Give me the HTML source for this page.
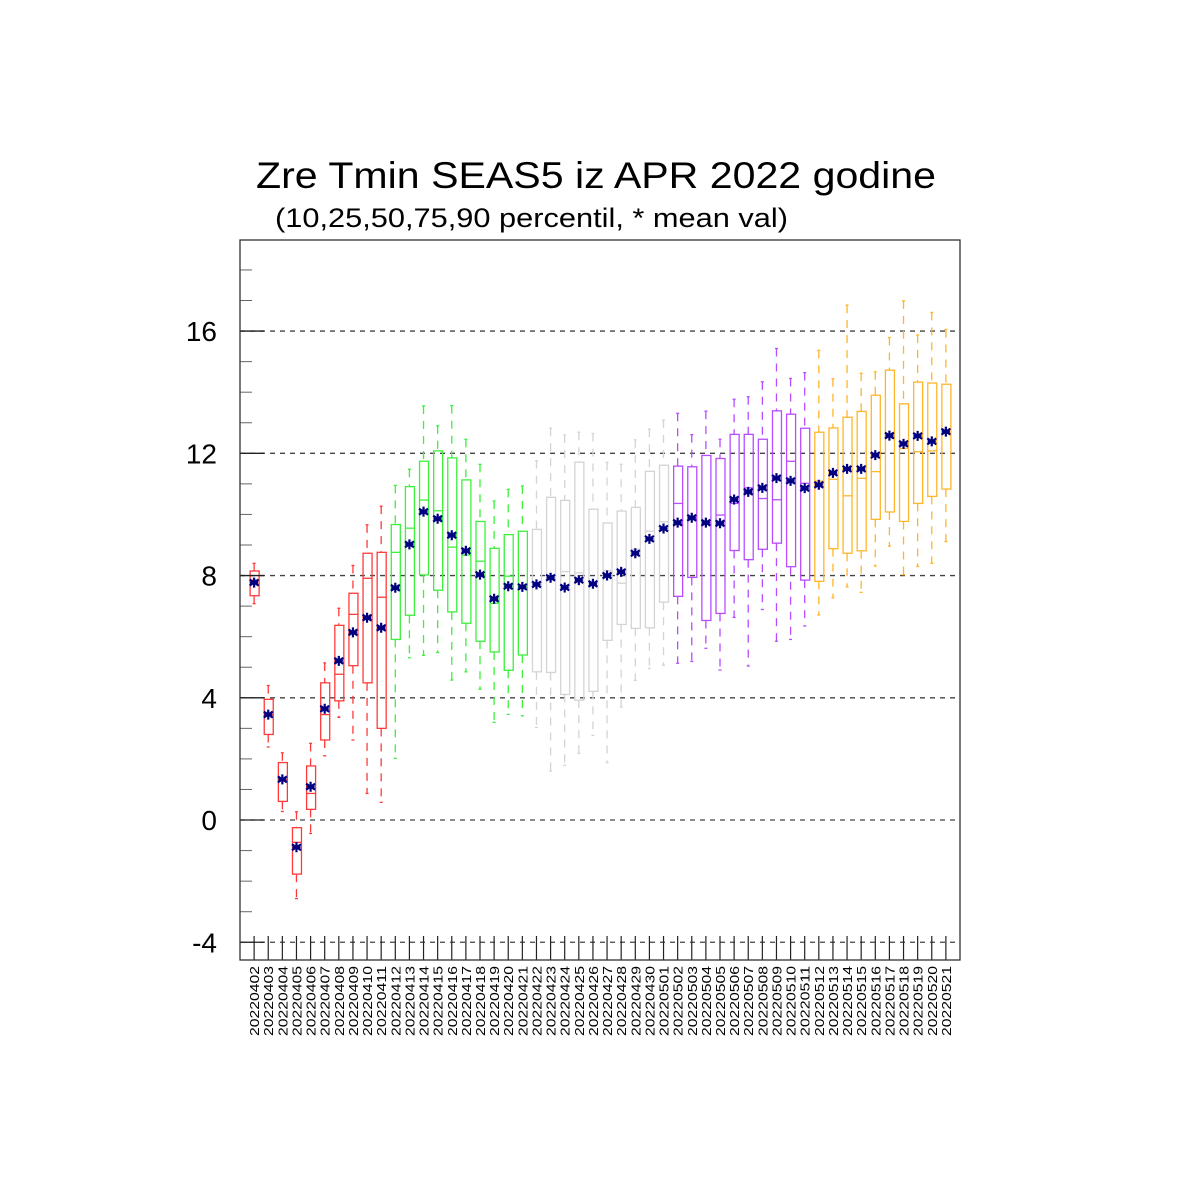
<!DOCTYPE html>
<html><head><meta charset="utf-8"><style>
html,body{margin:0;padding:0;background:#fff;}
svg{display:block;font-family:"Liberation Sans",sans-serif;}
</style></head><body>
<svg id="chart" width="1200" height="1200" viewBox="0 0 1200 1200" xmlns="http://www.w3.org/2000/svg">
<rect width="1200" height="1200" fill="#fff"/>
<text x="256" y="188" font-size="37" textLength="680" lengthAdjust="spacingAndGlyphs">Zre Tmin SEAS5 iz APR 2022 godine</text>
<text x="275" y="227" font-size="27" textLength="513" lengthAdjust="spacingAndGlyphs">(10,25,50,75,90 percentil, * mean val)</text>
<g id="grid"></g><g id="boxes"></g><g id="axes"></g>
</svg>
<script>
const dates=["20220402","20220403","20220404","20220405","20220406","20220407","20220408","20220409","20220410","20220411","20220412","20220413","20220414","20220415","20220416","20220417","20220418","20220419","20220420","20220421","20220422","20220423","20220424","20220425","20220426","20220427","20220428","20220429","20220430","20220501","20220502","20220503","20220504","20220505","20220506","20220507","20220508","20220509","20220510","20220511","20220512","20220513","20220514","20220515","20220516","20220517","20220518","20220519","20220520","20220521"];
const p10=[7.08,2.39,0.28,-2.57,-0.44,2.10,3.36,2.62,0.87,0.58,2.02,5.31,5.39,5.48,4.58,4.85,4.28,3.20,3.46,3.41,3.03,1.60,1.79,2.18,2.77,1.88,3.70,4.57,4.96,5.06,5.13,5.19,5.62,4.91,6.63,5.04,6.89,5.85,5.91,6.35,6.71,7.27,7.63,7.45,8.31,8.96,8.03,8.30,8.40,9.11];
const p25=[7.34,2.80,0.61,-1.77,0.35,2.62,3.90,5.05,4.49,3.00,5.91,6.70,8.02,7.52,6.81,6.44,5.85,5.50,4.90,5.40,4.85,4.83,4.11,3.92,4.21,5.88,6.40,6.27,6.29,7.13,7.32,7.94,6.53,6.76,8.82,8.52,8.86,9.06,8.29,7.85,7.81,8.88,8.73,8.81,9.84,10.08,9.77,10.36,10.59,10.83];
const p50=[7.85,3.45,1.30,-0.73,0.87,3.45,4.77,6.73,7.91,7.29,8.76,9.55,10.47,10.12,8.93,8.67,8.47,7.09,7.98,7.62,7.71,7.93,8.13,8.09,7.78,8.16,7.75,8.86,9.45,9.76,10.36,9.89,9.73,9.98,10.36,10.87,10.52,10.48,11.74,11.02,11.09,11.15,10.61,11.18,11.40,12.58,12.16,12.05,12.08,12.65];
const p75=[8.15,3.95,1.88,-0.25,1.77,4.49,6.37,7.42,8.73,8.76,9.67,10.91,11.74,12.08,11.85,11.13,9.77,8.89,9.34,9.45,9.51,10.56,10.46,11.71,10.17,9.72,10.11,10.23,11.41,11.61,11.58,11.56,11.93,11.83,12.62,12.62,12.46,13.39,13.28,12.82,12.69,12.83,13.18,13.37,13.90,14.72,13.62,14.33,14.30,14.26];
const p90=[8.40,4.40,2.20,0.27,2.51,5.14,6.93,8.33,9.66,10.27,10.95,11.48,13.55,12.90,13.56,12.46,11.64,10.44,10.82,10.93,11.76,12.82,12.60,12.69,12.65,11.70,11.64,12.44,12.79,13.09,13.31,12.61,13.38,12.46,13.77,13.85,14.34,15.43,14.45,14.64,15.37,14.44,16.85,14.62,14.67,15.79,16.99,15.87,16.61,16.05];
const means=[7.77,3.45,1.33,-0.89,1.09,3.64,5.21,6.14,6.62,6.29,7.60,9.02,10.09,9.86,9.32,8.81,8.03,7.24,7.65,7.63,7.71,7.93,7.61,7.85,7.73,8.00,8.12,8.73,9.20,9.54,9.73,9.89,9.73,9.71,10.49,10.74,10.87,11.19,11.10,10.86,10.97,11.36,11.49,11.49,11.94,12.58,12.31,12.57,12.39,12.71];
const yTicks=[-4,0,4,8,12,16];
const palette=["#ff3a3a","#3cf03c","#d4d4d4","#b84cff","#ffb52a"];
const NS="http://www.w3.org/2000/svg";
const L=240,R=960,T=240,B=960,yMin=-4.58,yMax=18.98;
const xs=i=>L+(i+1)*(R-L)/(dates.length+1);
const ys=v=>B-(v-yMin)/(yMax-yMin)*(B-T);
function mk(tag,attrs,parent){const e=document.createElementNS(NS,tag);for(const k in attrs)e.setAttribute(k,attrs[k]);parent.appendChild(e);return e;}
const grid=document.getElementById('grid'),boxes=document.getElementById('boxes'),axes=document.getElementById('axes');
for(let v=-4;v<=18;v++){
  const y=ys(v);
  const t=mk('line',{x1:L,x2:L+12,y1:y,y2:y,stroke:'#666','stroke-width':1},axes);
  
  
}
yTicks.forEach(v=>{
  const y=ys(v);
  const g=mk('line',{x1:L,x2:R,y1:y,y2:y,stroke:'#444','stroke-width':1.3,'stroke-dasharray':'5,5'},grid);
  
  
  const t=mk('line',{x1:L,x2:L+24,y1:y,y2:y,stroke:'#222','stroke-width':1.3},axes);
  
  
  const lb=mk('text',{x:217,y:y+10,'font-size':28,'text-anchor':'end',fill:'#000'},axes);
  lb.textContent=String(v);
  
  
});
dates.forEach((d,i)=>{
  const x=xs(i),c=palette[Math.floor(i/10)],w=10;
  const g=mk('g',{},boxes);
  
  
  mk('line',{x1:x,x2:x,y1:ys(p90[i]),y2:ys(p75[i]),stroke:c,'stroke-width':1.3,'stroke-dasharray':'8,7'},g);
  mk('line',{x1:x,x2:x,y1:ys(p25[i]),y2:ys(p10[i]),stroke:c,'stroke-width':1.3,'stroke-dasharray':'8,7'},g);
  mk('line',{x1:x-1.5,x2:x+1.5,y1:ys(p90[i]),y2:ys(p90[i]),stroke:c,'stroke-width':1.3},g);
  mk('line',{x1:x-1.5,x2:x+1.5,y1:ys(p10[i]),y2:ys(p10[i]),stroke:c,'stroke-width':1.3},g);
  mk('rect',{x:x-w/2+1,y:ys(p75[i]),width:w-1,height:ys(p25[i])-ys(p75[i]),fill:'none',stroke:c,'stroke-width':1.3},g);
  mk('line',{x1:x-w/2+1,x2:x+w/2,y1:ys(p50[i]),y2:ys(p50[i]),stroke:c,'stroke-width':1.3},g);
  const my=ys(means[i]);
  const m=mk('path',{d:`M${x},${my-5}V${my+5}M${x-4.5},${my-3}L${x+4.5},${my+3}M${x-4.5},${my+3}L${x+4.5},${my-3}M${x-4},${my}H${x+4}`,stroke:'#000080','stroke-width':2.2,fill:'none'},g);
  
  
  const tk=mk('line',{x1:x,x2:x,y1:B,y2:B-24,stroke:'#222','stroke-width':1.2},axes);
  
  
  const lb=mk('text',{x:0,y:0,'font-size':13,'text-anchor':'end',fill:'#000',textLength:70,lengthAdjust:'spacingAndGlyphs',transform:`translate(${x+5},966) rotate(-90)`},axes);
  lb.textContent=d;
  
  
});
const fr=mk('rect',{x:L,y:T,width:R-L,height:B-T,fill:'none',stroke:'#333','stroke-width':1.3},axes);


</script>
</body></html>
